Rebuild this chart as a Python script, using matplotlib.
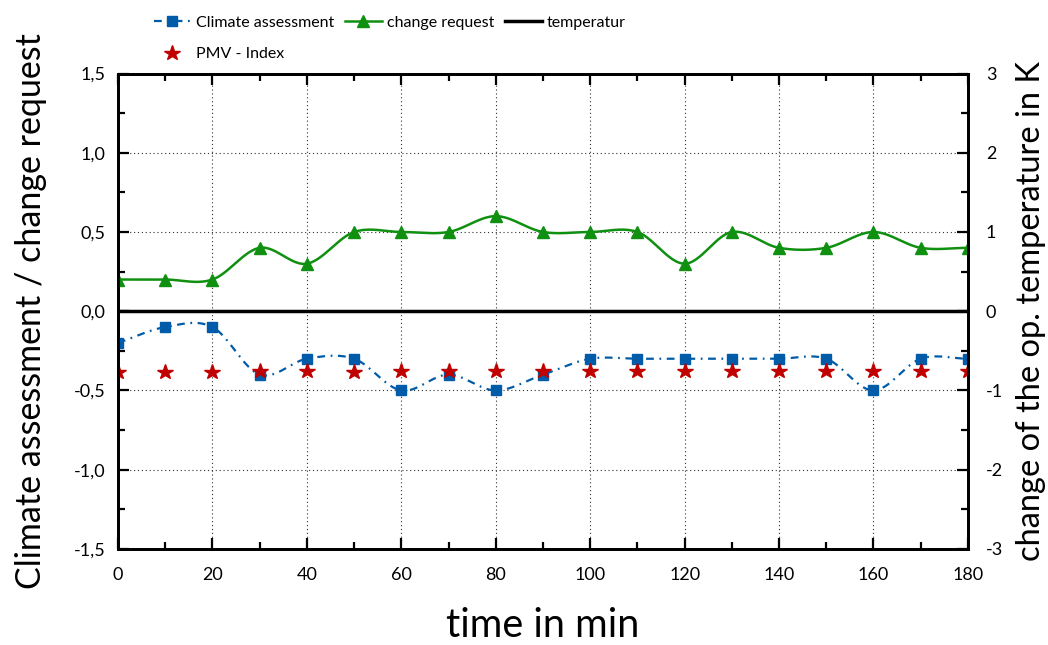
import numpy as np
import matplotlib
matplotlib.use("Agg")
import matplotlib.pyplot as plt
from matplotlib.ticker import MultipleLocator, FuncFormatter

plt.rcParams['font.family'] = ['Lato', 'DejaVu Sans']

time_min = [0, 10, 20, 30, 40, 50, 60, 70, 80, 90,
            100, 110, 120, 130, 140, 150, 160, 170, 180]
climate = [-0.2, -0.1, -0.1, -0.4, -0.3, -0.3, -0.5, -0.4, -0.5, -0.4,
           -0.3, -0.3, -0.3, -0.3, -0.3, -0.3, -0.5, -0.3, -0.3]
change_req = [0.2, 0.2, 0.2, 0.4, 0.3, 0.5, 0.5, 0.5, 0.6, 0.5,
              0.5, 0.5, 0.3, 0.5, 0.4, 0.4, 0.5, 0.4, 0.4]
pmv = [-0.385, -0.385, -0.385, -0.38, -0.38, -0.385, -0.38, -0.38, -0.38, -0.38,
       -0.375, -0.375, -0.375, -0.375, -0.375, -0.375, -0.375, -0.375, -0.375]
temperatur = [0] * len(time_min)

BLUE = '#005ca8'
GREEN = '#109010'
RED = '#c00000'


def smooth(x, y, n=30):
    """catmull-rom curve through the points (like excel's smoothed line)"""
    x = np.asarray(x, float)
    y = np.asarray(y, float)
    px = np.concatenate([[2 * x[0] - x[1]], x, [2 * x[-1] - x[-2]]])
    py = np.concatenate([[2 * y[0] - y[1]], y, [2 * y[-1] - y[-2]]])
    t = np.linspace(0, 1, n)[:-1]
    xs, ys = [], []
    for i in range(1, len(px) - 2):
        for p, out in ((px, xs), (py, ys)):
            p0, p1, p2, p3 = p[i - 1], p[i], p[i + 1], p[i + 2]
            out.append(0.5 * (2 * p1 + (-p0 + p2) * t
                              + (2 * p0 - 5 * p1 + 4 * p2 - p3) * t ** 2
                              + (-p0 + 3 * p1 - 3 * p2 + p3) * t ** 3))
    xs.append([x[-1]])
    ys.append([y[-1]])
    return np.concatenate(xs), np.concatenate(ys)


fig = plt.figure(figsize=(10.48, 6.45), dpi=100)
ax = fig.add_axes([0.1126, 0.149, 0.811, 0.737])
ax2 = ax.twinx()

dash = (0, (3.5, 2.5, 0.8, 2.5))
sx, sy = smooth(time_min, climate)
ax.plot(sx, sy, color=BLUE, lw=1.6, linestyle=dash, zorder=3)
ax.plot(time_min, climate, 's', color=BLUE, ms=7, zorder=4)
h_ca, = ax.plot([], [], color=BLUE, lw=1.6, linestyle=dash, marker='s', ms=6.5)

sx, sy = smooth(time_min, change_req)
ax.plot(sx, sy, color=GREEN, lw=1.8, zorder=3)
ax.plot(time_min, change_req, '^', color=GREEN, ms=8.5, zorder=4)
h_cr, = ax.plot([], [], color=GREEN, lw=1.8, marker='^', ms=8)

h_pmv, = ax.plot(time_min, pmv, '*', color=RED, ms=11.5, linestyle='none', zorder=5)

h_t, = ax2.plot(time_min, temperatur, color='black', lw=2.5, zorder=3)

ax.set_xlim(0, 180)
ax.set_ylim(-1.5, 1.5)
ax2.set_ylim(-3, 3)

ax.xaxis.set_major_locator(MultipleLocator(20))
ax.xaxis.set_minor_locator(MultipleLocator(10))
ax.yaxis.set_major_locator(MultipleLocator(0.5))
ax.yaxis.set_minor_locator(MultipleLocator(0.25))
ax2.yaxis.set_major_locator(MultipleLocator(1))
ax2.yaxis.set_minor_locator(MultipleLocator(0.5))
ax.yaxis.set_major_formatter(FuncFormatter(lambda v, p: f"{v:.1f}".replace('.', ',')))
ax2.yaxis.set_major_formatter(FuncFormatter(lambda v, p: f"{v:.0f}"))

ax.grid(True, which='major', linestyle=(0, (1, 2.5)), color='#303030', lw=0.8)

ax.tick_params(axis='x', which='both', direction='in', top=True, labelsize=13, pad=13)
ax.tick_params(axis='y', which='both', direction='in', labelsize=13, pad=9)
ax.tick_params(which='major', length=8, width=1.6)
ax.tick_params(which='minor', length=5, width=1.6)
ax2.tick_params(axis='y', which='both', direction='in', labelsize=13, pad=13)
ax2.tick_params(which='major', length=8, width=1.6)
ax2.tick_params(which='minor', length=5, width=1.6)

for a in (ax, ax2):
    for s in a.spines.values():
        s.set_linewidth(2)

ax.set_xlabel('time in min', fontsize=28.5, labelpad=17)
ax.set_ylabel('Climate assessment / change request', fontsize=24.5, labelpad=19)
ax2.set_ylabel('change of the op. temperature in K', fontsize=23.5, labelpad=9)

fig.legend([h_ca, h_pmv, h_cr, h_t],
           ['Climate assessment', 'PMV - Index', 'change request', 'temperatur'],
           ncol=3, loc='upper left', bbox_to_anchor=(0.147, 0.976),
           frameon=False, fontsize=11.5, handlelength=2.3, handletextpad=0.3,
           columnspacing=0.7, labelspacing=1.1, borderpad=0, borderaxespad=0)

fig.savefig('out.png', dpi=100)
